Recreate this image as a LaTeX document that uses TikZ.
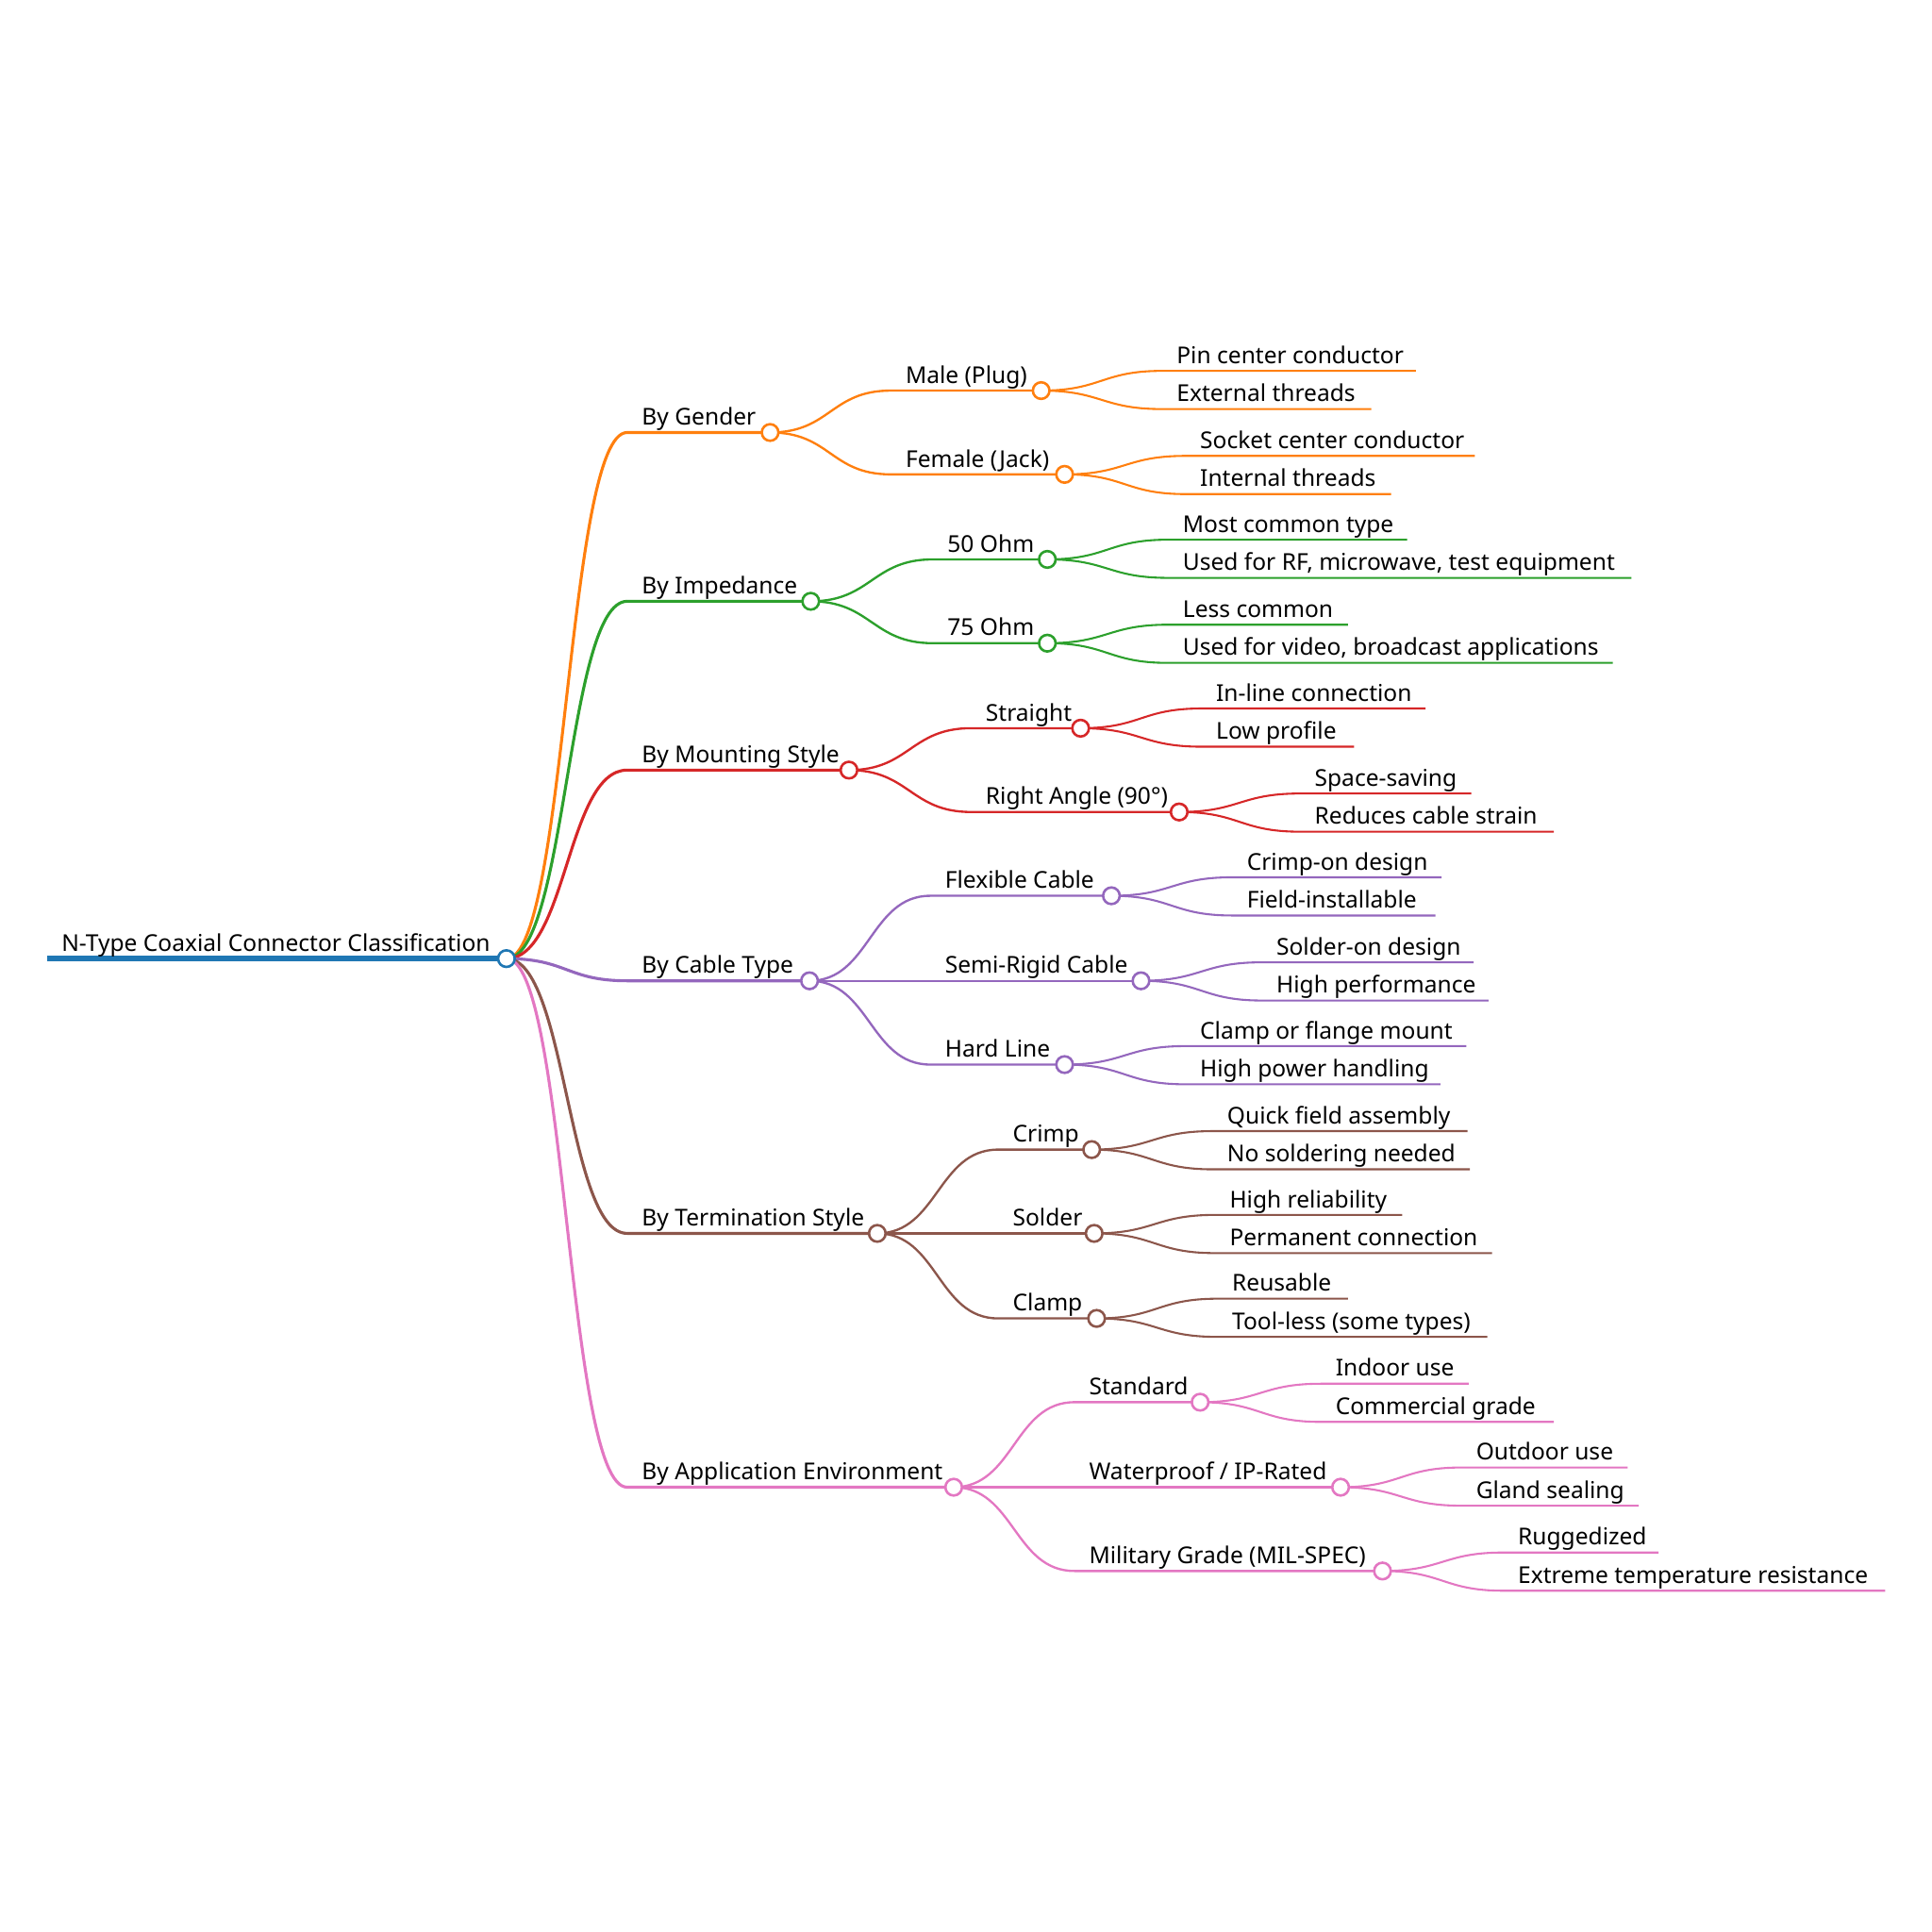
\documentclass[tikz,border=0pt]{standalone}
\usepackage{fontspec}
\setmainfont{Noto Sans}
\usetikzlibrary{calc}
\pgfdeclarelayer{bg}
\pgfsetlayers{bg,main}
\definecolor{c0}{HTML}{1F77B4}
\definecolor{c1}{HTML}{FF7F0E}
\definecolor{c2}{HTML}{2CA02C}
\definecolor{c3}{HTML}{D62728}
\definecolor{c4}{HTML}{9467BD}
\definecolor{c5}{HTML}{8C564B}
\definecolor{c6}{HTML}{E377C2}
\tikzset{
  lbl/.style={anchor=base west, inner sep=0pt, outer sep=0pt, font=\fontsize{18.8}{20}\selectfont, text=black},
  dot/.style={circle, draw=#1, fill=white, line width=2pt, minimum size=13.5pt, inner sep=0pt},
  lvone/.style={line width=2.4pt},
  lvtwo/.style={line width=1.8pt},
  lvleaf/.style={line width=1.6pt},
}
% inner node: name, parent, colour, level style, text x, y, circle x, text
\newcommand\mnode[8]{%
  \coordinate (#1s) at (#5-12,#6);
  \coordinate (#1) at (#7,#6);
  \begin{pgfonlayer}{bg}
    \draw[#3, #4] (#2) .. controls +(49,0) and +(-49,0) .. (#1s) -- (#1);
  \end{pgfonlayer}
  \node[lbl] (#1t) at (#5,#6-6) {#8};
  \node[dot=#3] (#1d) at (#1) {};
}
% leaf: name, parent, colour, text x, y, end x, text
\newcommand\mleaf[7]{%
  \coordinate (#1s) at (#4-12,#5);
  \coordinate (#1e) at (#6,#5);
  \begin{pgfonlayer}{bg}
    \draw[#3, lvleaf] (#2) .. controls +(49,0) and +(-49,0) .. (#1s) -- (#1e);
  \end{pgfonlayer}
  \node[lbl] (#1t) at (#4,#5-6) {#7};
}
\begin{document}
\begin{tikzpicture}[x=1pt,y=-1pt]
\useasboundingbox (0,0) rectangle (1568,1568);
% root
\coordinate (rootstart) at (38,778);
\coordinate (root) at (411,778);
\begin{pgfonlayer}{bg}
\draw[c0, line width=4.5pt] (rootstart) -- (root);
\end{pgfonlayer}
\node[lbl] (roott) at (50,772) {N-Type Coaxial Connector Classification};
\node[dot=c0] (rootd) at (root) {};

% By Gender
\mnode{g}{root}{c1}{lvone}{521}{351}{625}{By Gender}
\mnode{gm}{g}{c1}{lvtwo}{735}{317}{845}{Male (Plug)}
\mleaf{gma}{gm}{c1}{955}{301}{1149}{Pin center conductor}
\mleaf{gmb}{gm}{c1}{955}{332}{1113}{External threads}
\mnode{gf}{g}{c1}{lvtwo}{735}{385}{864}{Female (Jack)}
\mleaf{gfa}{gf}{c1}{974}{370}{1197}{Socket center conductor}
\mleaf{gfb}{gf}{c1}{974}{401}{1129}{Internal threads}

% By Impedance
\mnode{i}{root}{c2}{lvone}{521}{488}{658}{By Impedance}
\mnode{ia}{i}{c2}{lvtwo}{769}{454}{850}{50 Ohm}
\mleaf{iaa}{ia}{c2}{960}{438}{1142}{Most common type}
\mleaf{iab}{ia}{c2}{960}{469}{1324}{Used for RF, microwave, test equipment}
\mnode{ib}{i}{c2}{lvtwo}{769}{522}{850}{75 Ohm}
\mleaf{iba}{ib}{c2}{960}{507}{1094}{Less common}
\mleaf{ibb}{ib}{c2}{960}{538}{1309}{Used for video, broadcast applications}

% By Mounting Style
\mnode{m}{root}{c3}{lvone}{521}{625}{689}{By Mounting Style}
\mnode{ma}{m}{c3}{lvtwo}{800}{591}{877}{Straight}
\mleaf{maa}{ma}{c3}{987}{575}{1157}{In-line connection}
\mleaf{mab}{ma}{c3}{987}{606}{1099}{Low profile}
\mnode{mb}{m}{c3}{lvtwo}{800}{659}{957}{Right Angle (90°)}
\mleaf{mba}{mb}{c3}{1067}{644}{1194}{Space-saving}
\mleaf{mbb}{mb}{c3}{1067}{675}{1261}{Reduces cable strain}

% By Cable Type
\mnode{c}{root}{c4}{lvone}{521}{796}{657}{By Cable Type}
\mnode{ca}{c}{c4}{lvtwo}{767}{727}{902}{Flexible Cable}
\mleaf{caa}{ca}{c4}{1012}{712}{1170}{Crimp-on design}
\mleaf{cab}{ca}{c4}{1012}{743}{1165}{Field-installable}
\mnode{cb}{c}{c4}{lvtwo}{767}{796}{926}{Semi-Rigid Cable}
\mleaf{cba}{cb}{c4}{1036}{781}{1196}{Solder-on design}
\mleaf{cbb}{cb}{c4}{1036}{812}{1208}{High performance}
\mnode{cc}{c}{c4}{lvtwo}{767}{864}{864}{Hard Line}
\mleaf{cca}{cc}{c4}{974}{849}{1190}{Clamp or flange mount}
\mleaf{ccb}{cc}{c4}{974}{880}{1169}{High power handling}

% By Termination Style
\mnode{t}{root}{c5}{lvone}{521}{1001}{712}{By Termination Style}
\mnode{ta}{t}{c5}{lvtwo}{822}{933}{886}{Crimp}
\mleaf{taa}{ta}{c5}{996}{918}{1191}{Quick field assembly}
\mleaf{tab}{ta}{c5}{996}{949}{1193}{No soldering needed}
\mnode{tb}{t}{c5}{lvtwo}{822}{1001}{888}{Solder}
\mleaf{tba}{tb}{c5}{998}{986}{1138}{High reliability}
\mleaf{tbb}{tb}{c5}{998}{1017}{1211}{Permanent connection}
\mnode{tc}{t}{c5}{lvtwo}{822}{1070}{890}{Clamp}
\mleaf{tca}{tc}{c5}{1000}{1054}{1094}{Reusable}
\mleaf{tcb}{tc}{c5}{1000}{1085}{1207}{Tool-less (some types)}

% By Application Environment
\mnode{a}{root}{c6}{lvone}{521}{1207}{774}{By Application Environment}
\mnode{aa}{a}{c6}{lvtwo}{884}{1138}{974}{Standard}
\mleaf{aaa}{aa}{c6}{1084}{1123}{1192}{Indoor use}
\mleaf{aab}{aa}{c6}{1084}{1154}{1261}{Commercial grade}
\mnode{ab}{a}{c6}{lvtwo}{884}{1207}{1088}{Waterproof / IP-Rated}
\mleaf{aba}{ab}{c6}{1198}{1191}{1321}{Outdoor use}
\mleaf{abb}{ab}{c6}{1198}{1222}{1330}{Gland sealing}
\mnode{ac}{a}{c6}{lvtwo}{884}{1275}{1122}{Military Grade (MIL-SPEC)}
\mleaf{aca}{ac}{c6}{1232}{1260}{1346}{Ruggedized}
\mleaf{acb}{ac}{c6}{1232}{1291}{1530}{Extreme temperature resistance}
\end{tikzpicture}
\end{document}
